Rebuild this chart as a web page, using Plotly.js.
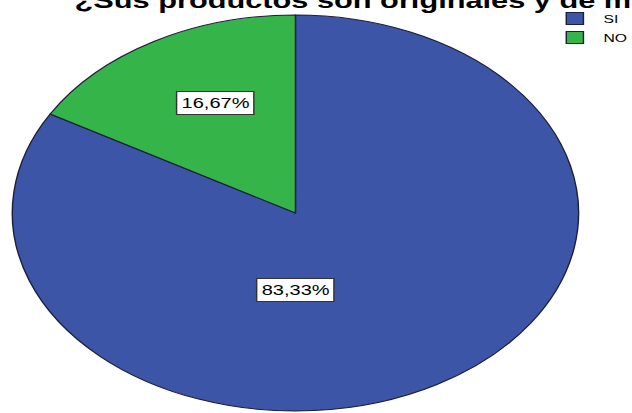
<!DOCTYPE html>
<html>
<head>
<meta charset="utf-8">
<script src="https://cdn.plot.ly/plotly-3.0.1.min.js"></script>
<style>
  html, body { margin: 0; padding: 0; overflow: hidden; background: #ffffff; width: 632px; height: 413px; }
  #plot { width: 442px; height: 413px; transform: scaleX(1.43); transform-origin: 0 0; }
</style>
</head>
<body>
<div id="plot"></div>
<script>
var categories = ["SI", "NO"];
var percentValues = [83.33, 16.67];
var sliceColors = ["#3D55A7", "#35B44A"];
var chartTitle = "¿Sus productos son originales y de marca?";

var total = percentValues.reduce(function (a, b) { return a + b; }, 0);
function fmt(v) { return (v / total * 100).toFixed(2).replace('.', ',') + '%'; }

var W = 442, H = 413;
// label anchor points (layout, in unstretched pixels)
var labelPos = { "SI": [206.3, 289.5], "NO": [150.7, 102.5] };

var trace = {
  type: 'pie',
  labels: categories,
  values: percentValues,
  sort: false,
  direction: 'clockwise',
  rotation: 0,
  textinfo: 'none',
  hoverinfo: 'label+percent',
  marker: { colors: sliceColors, line: { color: '#1c1f3a', width: 1 } },
  domain: { x: [8.6 / W, 404.6 / W], y: [2 / H, 398 / H] }
};

var annotations = categories.map(function (c, i) {
  return {
    xref: 'paper', yref: 'paper',
    x: labelPos[c][0] / W, y: 1 - labelPos[c][1] / H,
    xanchor: 'center', yanchor: 'middle',
    text: fmt(percentValues[i]),
    showarrow: false,
    bgcolor: '#ffffff',
    bordercolor: '#333333',
    borderwidth: 1,
    borderpad: 3,
    font: { family: 'Liberation Sans, Arial, sans-serif', size: 14, color: '#000000' }
  };
});
annotations.push({
  xref: 'paper', yref: 'paper',
  x: 50 / W, y: 1 - 0.5 / H,
  xanchor: 'left', yanchor: 'middle',
  text: '<b>' + chartTitle + '</b>',
  showarrow: false,
  font: { family: 'Liberation Sans, Arial, sans-serif', size: 21.5, color: '#000000' }
});

var layout = {
  width: W, height: H,
  margin: { l: 0, r: 0, t: 0, b: 0, autoexpand: false },
  paper_bgcolor: '#ffffff',
  separators: ',.',
  showlegend: true,
  legend: {
    x: 382 / W, y: 1 - 4 / H, xanchor: 'left', yanchor: 'top',
    font: { family: 'Liberation Sans, Arial, sans-serif', size: 11, color: '#000000' },
    bgcolor: 'rgba(0,0,0,0)', tracegroupgap: 0
  },
  annotations: annotations
};

Plotly.newPlot('plot', [trace], layout, { displayModeBar: false, staticPlot: true });
</script>
</body>
</html>
